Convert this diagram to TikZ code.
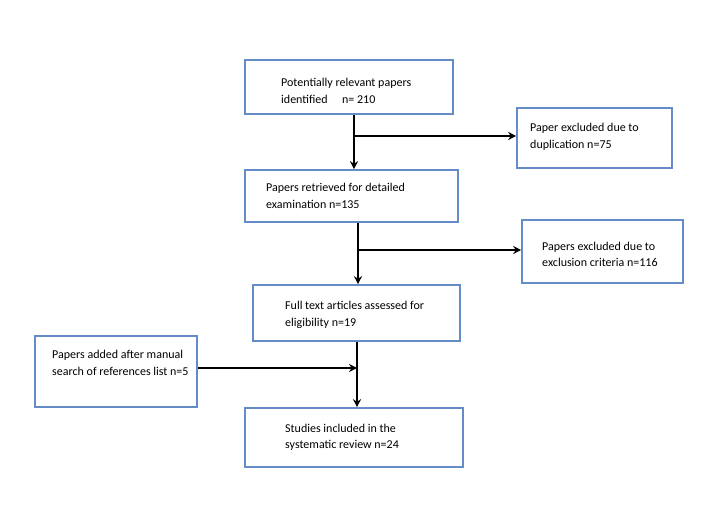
\documentclass[tikz,border=0pt]{standalone}
\usepackage{fontspec}
\setmainfont{Carlito}
\usetikzlibrary{arrows.meta}
\definecolor{boxblue}{RGB}{100,140,200}
\tikzset{
  box/.style={draw=boxblue, line width=1.6pt, fill=white, rectangle, inner sep=0pt},
  txt/.style={anchor=west, align=left, inner sep=0pt, font=\fontsize{12}{16.5}\selectfont},
  conn/.style={line width=1.6pt, black},
  arr/.style={conn, -{Stealth[length=8pt,width=8pt]}}
}
\begin{document}
\begin{tikzpicture}[x=1pt,y=-1pt]
\useasboundingbox[fill=white] (0,0) rectangle (702,529);
% boxes
\node[box, minimum width=208pt, minimum height=54pt] (b1) at (349,87) {};
\node[box, minimum width=155pt, minimum height=60pt] (b2) at (594.5,138) {};
\node[box, minimum width=213pt, minimum height=52pt] (b3) at (351.5,196) {};
\node[box, minimum width=161pt, minimum height=63pt] (b4) at (602.5,251.5) {};
\node[box, minimum width=207pt, minimum height=56pt] (b5) at (356.5,313) {};
\node[box, minimum width=162pt, minimum height=71pt] (b7) at (116,371.5) {};
\node[box, minimum width=218pt, minimum height=59pt] (b6) at (354,437.5) {};
% texts
\node[txt] (t1) at (281,91) {Potentially relevant papers\\identified\hspace{1.2em}n= 210};
\node[txt] (t2) at (530,137) {Paper excluded due to\\duplication n=75};
\node[txt] (t3) at (266,196) {Papers retrieved for detailed\\examination n=135};
\node[txt] (t4) at (542,254.5) {Papers excluded due to\\exclusion criteria n=116};
\node[txt] (t5) at (285,315) {Full text articles assessed for\\eligibility n=19};
\node[txt] (t7) at (52,363) {Papers added after manual\\search of references list n=5};
\node[txt] (t6) at (285,437.5) {Studies included in the\\systematic review n=24};
% junctions
\coordinate (j1) at (354,136);
\coordinate (j2) at (358,250);
\coordinate (j3) at (357,368);
% connectors
\draw[arr] (b1.south -| j1) -- (b3.north -| j1);
\draw[arr] (j1) -- (b2.west |- j1);
\draw[arr] (b3.south -| j2) -- (b5.north -| j2);
\draw[arr] (j2) -- (b4.west |- j2);
\draw[arr] (b5.south -| j3) -- (b6.north -| j3);
\draw[arr] (b7.east |- j3) -- (j3);
\end{tikzpicture}
\end{document}
